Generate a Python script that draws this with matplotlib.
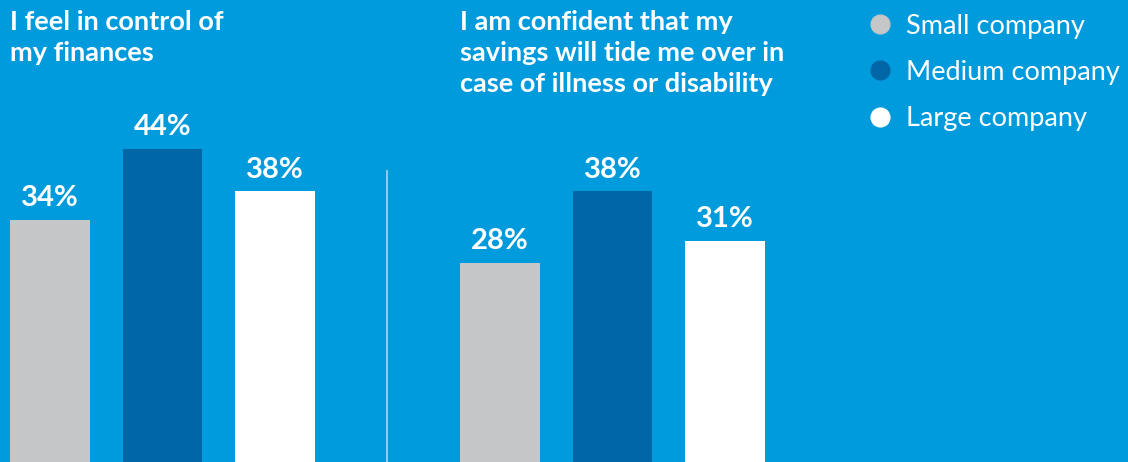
import matplotlib.pyplot as plt
from matplotlib.lines import Line2D

# --- data ---
companies = ['Small company', 'Medium company', 'Large company']
control_values = [34, 44, 38]
savings_values = [28, 38, 31]
titles = ['I feel in control of\nmy finances',
          'I am confident that my\nsavings will tide me over in\ncase of illness or disability']

bg = '#009bdc'
colors = ['#c4c6c8', '#0066a6', '#ffffff']

plt.rcParams['font.family'] = ['Lato', 'DejaVu Sans']

W, H = 1128, 462
fig = plt.figure(figsize=(W / 100, H / 100), dpi=100, facecolor=bg)


def draw_panel(left_px, values):
    # axes spans first bar left edge to last bar right edge
    ax = fig.add_axes([left_px / W, 0, 305 / W, 1])
    ax.set_facecolor('none')
    x = range(len(values))
    bars = ax.bar(x, values, width=0.71, color=colors)
    ax.set_xlim(-0.355, 2.355)
    ax.set_ylim(0, 64.9)
    ax.axis('off')
    for b, v in zip(bars, values):
        ax.annotate(f'{v}%', (b.get_x() + b.get_width() / 2, v),
                    xytext=(0, 10), textcoords='offset points',
                    ha='center', va='baseline', color='white',
                    fontsize=21, fontweight='bold')
    return ax


draw_panel(10, control_values)
draw_panel(460, savings_values)

# titles
for x_px, t in zip([10, 460], titles):
    fig.text(x_px / W, 1 - 10 / H, t, ha='left', va='top', color='white',
             fontsize=19.5, fontweight='bold', linespacing=1.34)

# separator
fig.add_artist(Line2D([387 / W, 387 / W], [0, 1 - 171 / H],
                      color='#a8d8f2', lw=1.2))

# legend
handles = [Line2D([], [], marker='o', ls='none', markersize=13.5,
                  markerfacecolor=c, markeredgecolor=c) for c in colors]
fig.legend(handles, companies, loc='upper left',
           bbox_to_anchor=(853 / W, 1 - 0 / H), frameon=False,
           labelcolor='white', fontsize=19.5, handlelength=1.0,
           handletextpad=0.45, labelspacing=0.79, borderpad=0)

fig.savefig('out.png', dpi=100, facecolor=bg)
